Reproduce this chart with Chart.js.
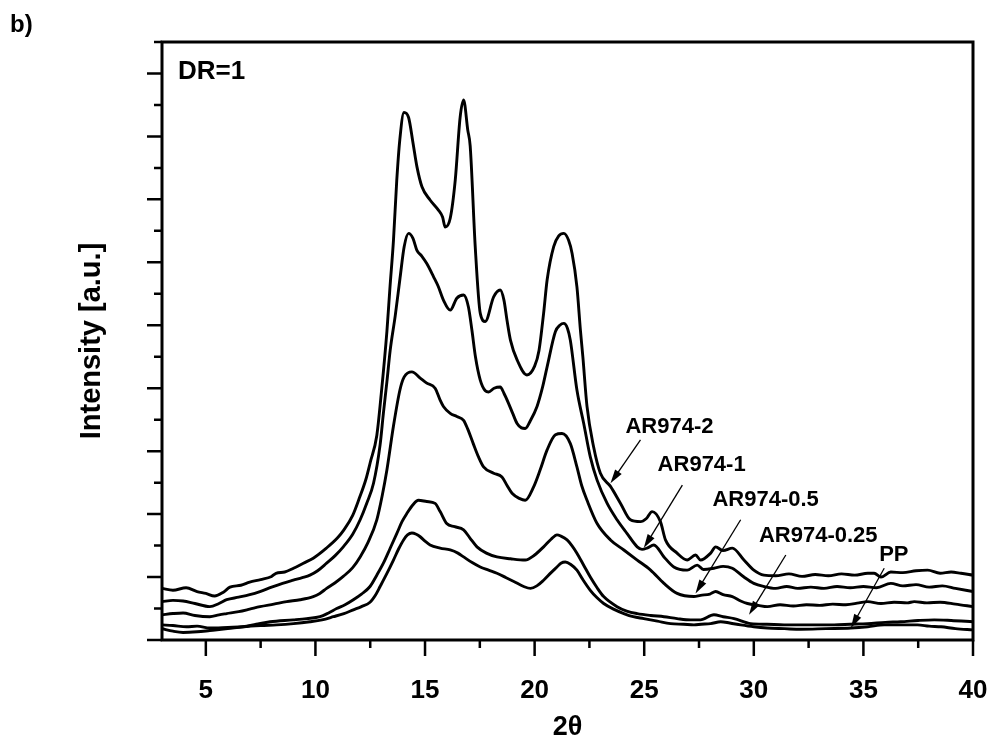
<!DOCTYPE html>
<html>
<head>
<meta charset="utf-8">
<script src="https://cdn.jsdelivr.net/npm/chart.js@4.4.1/dist/chart.umd.min.js"></script>
<style>
  html, body { margin: 0; padding: 0; background: #fff; }
  #wrap { width: 991px; height: 745px; }
</style>
</head>
<body>
<div id="wrap"><canvas id="xrd" width="991" height="745"></canvas></div>
<script>
// XRD patterns, DR=1. 2theta in degrees, intensity in a.u. (1 unit = one major tick)
const ar2Theta = [3.0, 3.5, 4.1, 4.6, 5.0, 5.4, 5.8, 6.1, 6.6, 7.0, 7.5, 8.0, 8.2, 8.6, 9.0, 9.45, 9.9, 10.5, 11.0, 11.3, 11.7, 12.0, 12.3, 12.5, 12.8, 13.0, 13.26, 13.4, 13.56, 13.71, 13.85, 14.04, 14.25, 14.45, 14.63, 14.86, 15.23, 15.61, 15.8, 15.92, 16.15, 16.38, 16.6, 16.76, 16.95, 17.06, 17.29, 17.52, 17.75, 18.13, 18.43, 18.6, 18.74, 18.9, 19.2, 19.65, 20.0, 20.2, 20.41, 20.57, 20.87, 21.1, 21.33, 21.55, 21.71, 21.93, 22.09, 22.2, 22.39, 22.69, 23.0, 23.46, 23.92, 24.37, 24.83, 25.1, 25.36, 25.74, 25.97, 26.5, 26.96, 27.34, 27.57, 28.03, 28.26, 28.6, 29.02, 29.55, 30.0, 30.46, 31.0, 31.6, 32.2, 32.8, 33.4, 34.0, 34.6, 35.2, 35.49, 35.8, 36.25, 36.8, 37.4, 37.93, 38.5, 39.0, 39.45, 40.0];
const ar2Int = [0.82, 0.79, 0.83, 0.77, 0.74, 0.70, 0.76, 0.84, 0.87, 0.92, 0.96, 1.01, 1.06, 1.08, 1.14, 1.22, 1.30, 1.46, 1.62, 1.75, 1.98, 2.25, 2.55, 2.82, 3.25, 3.90, 4.90, 5.60, 6.35, 7.30, 7.95, 8.38, 8.30, 7.90, 7.52, 7.20, 6.99, 6.83, 6.72, 6.56, 6.70, 7.31, 8.30, 8.58, 8.10, 7.85, 6.25, 5.19, 5.06, 5.45, 5.56, 5.40, 5.08, 4.76, 4.45, 4.21, 4.35, 4.60, 5.19, 5.72, 6.25, 6.42, 6.46, 6.35, 6.14, 5.61, 4.92, 4.50, 3.71, 3.07, 2.65, 2.44, 2.17, 1.91, 1.88, 1.93, 2.04, 1.88, 1.59, 1.38, 1.27, 1.35, 1.27, 1.38, 1.48, 1.42, 1.46, 1.27, 1.11, 1.03, 1.02, 1.05, 1.01, 1.04, 1.02, 1.05, 1.03, 1.06, 1.06, 1.00, 1.08, 1.07, 1.10, 1.11, 1.06, 1.08, 1.06, 1.03];

const ar12Theta = [3.0, 3.5, 3.96, 4.5, 5.18, 5.6, 5.95, 6.5, 7.0, 7.47, 8.0, 8.5, 8.99, 9.4, 9.75, 10.1, 10.51, 10.9, 11.27, 11.7, 12.04, 12.35, 12.65, 12.95, 13.1, 13.26, 13.41, 13.64, 13.86, 14.05, 14.25, 14.45, 14.63, 14.85, 15.08, 15.39, 15.6, 15.84, 16.15, 16.45, 16.76, 16.98, 17.14, 17.3, 17.52, 17.75, 17.9, 18.15, 18.43, 18.6, 18.81, 19.0, 19.2, 19.4, 19.57, 19.8, 20.11, 20.35, 20.57, 20.95, 21.15, 21.33, 21.5, 21.63, 21.93, 22.24, 22.54, 22.85, 23.31, 23.76, 24.22, 24.68, 24.9, 25.13, 25.44, 25.9, 26.35, 26.96, 27.42, 27.7, 28.18, 28.6, 29.02, 29.55, 30.0, 30.46, 31.0, 31.5, 32.0, 32.6, 33.2, 33.8, 34.4, 35.0, 35.6, 36.25, 36.8, 37.4, 38.0, 38.6, 39.2, 40.0];
const ar1Int = [0.61, 0.63, 0.62, 0.58, 0.53, 0.58, 0.64, 0.68, 0.72, 0.77, 0.84, 0.90, 0.95, 0.99, 1.03, 1.10, 1.22, 1.34, 1.48, 1.68, 1.91, 2.18, 2.49, 3.10, 3.60, 4.10, 4.60, 5.15, 5.75, 6.25, 6.46, 6.38, 6.19, 6.10, 5.98, 5.77, 5.62, 5.40, 5.24, 5.43, 5.48, 5.29, 4.92, 4.50, 4.13, 3.96, 3.94, 4.00, 4.02, 3.92, 3.76, 3.60, 3.44, 3.37, 3.36, 3.48, 3.71, 4.00, 4.34, 4.90, 5.00, 5.03, 4.95, 4.76, 3.97, 3.44, 2.91, 2.54, 2.17, 1.91, 1.69, 1.48, 1.44, 1.46, 1.51, 1.32, 1.16, 1.11, 1.19, 1.12, 1.14, 1.17, 1.14, 1.00, 0.90, 0.85, 0.82, 0.85, 0.82, 0.84, 0.82, 0.85, 0.83, 0.85, 0.83, 0.90, 0.86, 0.88, 0.84, 0.86, 0.82, 0.77];

const ar052Theta = [3.0, 3.5, 3.96, 4.5, 5.18, 5.6, 5.95, 6.5, 7.0, 7.47, 8.1, 8.69, 9.3, 9.9, 10.2, 10.51, 10.9, 11.27, 11.7, 12.04, 12.4, 12.8, 13.05, 13.26, 13.56, 13.86, 14.05, 14.4, 14.78, 15.08, 15.46, 15.69, 15.84, 16.15, 16.45, 16.76, 16.95, 17.2, 17.45, 17.67, 18.13, 18.51, 18.75, 18.97, 19.3, 19.57, 19.95, 20.25, 20.57, 20.95, 21.25, 21.63, 21.93, 22.15, 22.39, 22.85, 23.46, 24.07, 24.68, 25.29, 25.9, 26.5, 27.27, 27.57, 28.0, 28.26, 28.6, 29.02, 29.4, 29.71, 30.2, 30.62, 31.2, 31.8, 32.4, 33.0, 33.6, 34.2, 34.8, 35.19, 35.8, 36.4, 37.0, 37.32, 37.9, 38.5, 39.2, 40.0];
const ar05Int = [0.40, 0.42, 0.43, 0.39, 0.37, 0.40, 0.42, 0.45, 0.49, 0.53, 0.57, 0.61, 0.64, 0.69, 0.74, 0.82, 0.91, 1.01, 1.15, 1.32, 1.55, 1.91, 2.30, 2.70, 3.40, 3.98, 4.18, 4.26, 4.16, 4.08, 4.00, 3.81, 3.71, 3.60, 3.55, 3.49, 3.35, 3.12, 2.90, 2.75, 2.65, 2.59, 2.45, 2.33, 2.25, 2.22, 2.43, 2.70, 3.02, 3.26, 3.28, 3.12, 2.75, 2.45, 2.22, 1.85, 1.59, 1.43, 1.27, 1.11, 0.90, 0.74, 0.69, 0.71, 0.73, 0.77, 0.72, 0.69, 0.62, 0.58, 0.55, 0.53, 0.56, 0.54, 0.56, 0.55, 0.57, 0.56, 0.59, 0.61, 0.58, 0.60, 0.59, 0.61, 0.59, 0.60, 0.57, 0.53];

const ar0252Theta = [3.0, 3.5, 4.12, 4.6, 5.18, 6.0, 6.7, 7.3, 7.93, 8.99, 9.6, 10.21, 10.6, 10.97, 11.35, 11.73, 12.1, 12.49, 12.8, 13.1, 13.4, 13.71, 13.95, 14.17, 14.45, 14.7, 15.08, 15.46, 15.69, 15.99, 16.35, 16.76, 17.05, 17.37, 17.8, 18.28, 18.9, 19.57, 20.0, 20.41, 20.75, 21.02, 21.2, 21.48, 21.7, 21.93, 22.25, 22.54, 22.85, 23.15, 23.76, 24.2, 24.68, 25.3, 25.9, 26.5, 27.12, 27.57, 28.18, 28.6, 29.1, 29.86, 30.6, 31.38, 32.5, 33.66, 34.4, 35.19, 36.0, 36.7, 37.5, 38.23, 39.0, 40.0];
const ar025Int = [0.24, 0.23, 0.21, 0.22, 0.19, 0.20, 0.21, 0.25, 0.29, 0.32, 0.34, 0.37, 0.43, 0.50, 0.56, 0.64, 0.73, 0.85, 1.03, 1.22, 1.45, 1.69, 1.88, 2.01, 2.15, 2.22, 2.20, 2.17, 2.04, 1.85, 1.80, 1.75, 1.62, 1.48, 1.38, 1.32, 1.29, 1.27, 1.35, 1.48, 1.60, 1.67, 1.65, 1.59, 1.50, 1.38, 1.18, 1.00, 0.83, 0.69, 0.53, 0.46, 0.42, 0.39, 0.37, 0.34, 0.32, 0.32, 0.40, 0.37, 0.34, 0.26, 0.25, 0.24, 0.24, 0.24, 0.25, 0.26, 0.28, 0.29, 0.31, 0.32, 0.31, 0.29];

const pp2Theta = [3.0, 3.5, 3.96, 4.6, 5.18, 6.0, 6.7, 7.5, 8.23, 9.0, 9.75, 10.3, 10.82, 11.3, 11.73, 12.1, 12.49, 12.75, 12.95, 13.25, 13.56, 13.8, 14.02, 14.2, 14.4, 14.6, 14.78, 15.0, 15.23, 15.69, 16.15, 16.5, 16.76, 17.15, 17.52, 17.9, 18.28, 18.7, 19.05, 19.5, 19.81, 20.1, 20.41, 20.75, 21.02, 21.2, 21.4, 21.65, 21.93, 22.2, 22.54, 22.85, 23.15, 23.6, 24.07, 24.5, 24.98, 25.6, 26.2, 26.8, 27.27, 27.6, 28.03, 28.49, 28.9, 29.4, 30.0, 30.62, 31.4, 32.14, 33.3, 34.43, 35.2, 35.95, 36.7, 37.47, 38.0, 38.54, 39.2, 40.0];
const ppInt = [0.18, 0.14, 0.12, 0.13, 0.15, 0.18, 0.21, 0.23, 0.24, 0.26, 0.29, 0.32, 0.37, 0.42, 0.48, 0.53, 0.60, 0.72, 0.85, 1.05, 1.27, 1.45, 1.59, 1.67, 1.70, 1.68, 1.64, 1.57, 1.51, 1.46, 1.43, 1.38, 1.32, 1.23, 1.16, 1.11, 1.06, 0.99, 0.93, 0.85, 0.82, 0.86, 0.95, 1.07, 1.16, 1.22, 1.24, 1.20, 1.11, 0.96, 0.79, 0.67, 0.58, 0.49, 0.42, 0.37, 0.34, 0.30, 0.26, 0.25, 0.24, 0.25, 0.26, 0.29, 0.27, 0.24, 0.21, 0.19, 0.18, 0.17, 0.18, 0.19, 0.21, 0.24, 0.24, 0.24, 0.22, 0.21, 0.18, 0.16];

const seriesNames = ["PP", "AR974-0.25", "AR974-0.5", "AR974-1", "AR974-2"];
const xMajorTicks = [5, 10, 15, 20, 25, 30, 35, 40];
const xMinorTicks = [7.5, 12.5, 17.5, 22.5, 27.5, 32.5, 37.5];
const yMajorTicks = [0, 1, 2, 3, 4, 5, 6, 7, 8, 9];
const yMinorTicks = [0.5, 1.5, 2.5, 3.5, 4.5, 5.5, 6.5, 7.5, 8.5, 9.5];

// curve labels with arrows (text centre, arrow start, arrow tip) in data units
const curveLabels = [
  { text: "AR974-2", at: [26.15, 3.38], from: [24.83, 3.18], to: [23.46, 2.49] },
  { text: "AR974-1", at: [27.62, 2.78], from: [26.74, 2.46], to: [24.98, 1.46] },
  { text: "AR974-0.5", at: [30.54, 2.22], from: [29.4, 1.91], to: [27.34, 0.74] },
  { text: "AR974-0.25", at: [32.94, 1.65], from: [31.46, 1.35], to: [29.78, 0.40] },
  { text: "PP", at: [36.39, 1.35], from: [35.95, 1.14], to: [34.43, 0.19] }
];

const toPoints = (xs, ys) => xs.map((x, i) => ({ x: x, y: ys[i] }));

const allSeries = [
  toPoints(pp2Theta, ppInt),
  toPoints(ar0252Theta, ar025Int),
  toPoints(ar052Theta, ar05Int),
  toPoints(ar12Theta, ar1Int),
  toPoints(ar2Theta, ar2Int)
];

const FONT = "'Liberation Sans', Arial, sans-serif";

const framePlugin = {
  id: "frame",
  afterDraw(chart) {
    const ctx = chart.ctx;
    const xs = chart.scales.x;
    const ys = chart.scales.y;
    const a = chart.chartArea;
    ctx.save();
    ctx.strokeStyle = "#000";
    ctx.fillStyle = "#000";

    // ticks (outside)
    ctx.lineWidth = 2.5;
    ctx.beginPath();
    xMajorTicks.forEach((v) => {
      const px = xs.getPixelForValue(v);
      ctx.moveTo(px, a.bottom);
      ctx.lineTo(px, a.bottom + 16);
    });
    xMinorTicks.forEach((v) => {
      const px = xs.getPixelForValue(v);
      ctx.moveTo(px, a.bottom);
      ctx.lineTo(px, a.bottom + 8);
    });
    yMajorTicks.forEach((v) => {
      const py = ys.getPixelForValue(v);
      ctx.moveTo(a.left, py);
      ctx.lineTo(a.left - 15, py);
    });
    yMinorTicks.forEach((v) => {
      const py = ys.getPixelForValue(v);
      ctx.moveTo(a.left, py);
      ctx.lineTo(a.left - 8, py);
    });
    ctx.stroke();

    // frame
    ctx.lineWidth = 3;
    ctx.strokeRect(a.left, a.top, a.right - a.left, a.bottom - a.top);

    // x tick labels
    ctx.font = "bold 26px " + FONT;
    ctx.textAlign = "center";
    ctx.textBaseline = "middle";
    xMajorTicks.forEach((v) => {
      ctx.fillText(String(v), xs.getPixelForValue(v), a.bottom + 51);
    });

    // axis titles
    ctx.font = "bold 27px " + FONT;
    ctx.fillText("2\u03b8", (a.left + a.right) / 2, a.bottom + 88);
    ctx.save();
    ctx.translate(92, (a.top + a.bottom) / 2);
    ctx.rotate(-Math.PI / 2);
    ctx.font = "bold 29px " + FONT;
    ctx.fillText("Intensity [a.u.]", 0, 0);
    ctx.restore();

    // panel letter and DR label
    ctx.textAlign = "left";
    ctx.font = "bold 24px " + FONT;
    ctx.fillText("b)", 10, 25);
    ctx.font = "bold 26px " + FONT;
    ctx.fillText("DR=1", a.left + 16, a.top + 30);

    // curve labels with arrows
    ctx.textAlign = "center";
    ctx.font = "bold 22px " + FONT;
    curveLabels.forEach((c) => {
      ctx.fillText(c.text, xs.getPixelForValue(c.at[0]), ys.getPixelForValue(c.at[1]));
      const x1 = xs.getPixelForValue(c.from[0]);
      const y1 = ys.getPixelForValue(c.from[1]);
      const x2 = xs.getPixelForValue(c.to[0]);
      const y2 = ys.getPixelForValue(c.to[1]);
      const ang = Math.atan2(y2 - y1, x2 - x1);
      ctx.lineWidth = 1.3;
      ctx.beginPath();
      ctx.moveTo(x1, y1);
      ctx.lineTo(x2 - 10 * Math.cos(ang), y2 - 10 * Math.sin(ang));
      ctx.stroke();
      ctx.beginPath();
      ctx.moveTo(x2, y2);
      ctx.lineTo(x2 - 14 * Math.cos(ang) + 4 * Math.sin(ang), y2 - 14 * Math.sin(ang) - 4 * Math.cos(ang));
      ctx.lineTo(x2 - 14 * Math.cos(ang) - 4 * Math.sin(ang), y2 - 14 * Math.sin(ang) + 4 * Math.cos(ang));
      ctx.closePath();
      ctx.fill();
    });
    ctx.restore();
  }
};

new Chart(document.getElementById("xrd"), {
  type: "line",
  data: {
    datasets: allSeries.map((pts, i) => ({
      label: seriesNames[i],
      data: pts,
      borderColor: "#000",
      borderWidth: 2.9,
      pointRadius: 0,
      fill: false,
      cubicInterpolationMode: "monotone"
    }))
  },
  options: {
    responsive: false,
    animation: false,
    devicePixelRatio: 1,
    layout: { padding: { left: 162, top: 42, right: 18, bottom: 105 } },
    plugins: { legend: { display: false }, tooltip: { enabled: false } },
    scales: {
      x: { type: "linear", min: 3, max: 40, display: false },
      y: { type: "linear", min: 0, max: 9.5, display: false }
    }
  },
  plugins: [framePlugin]
});
</script>
</body>
</html>
